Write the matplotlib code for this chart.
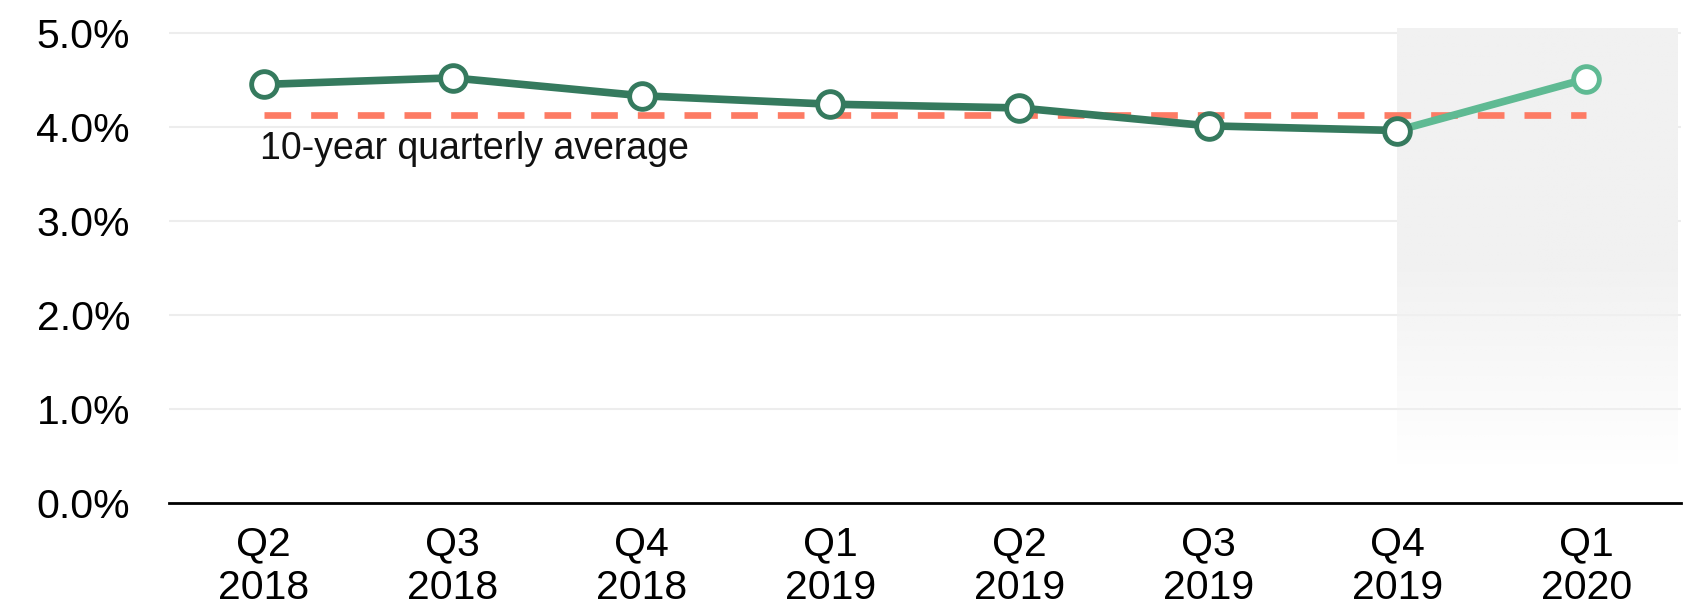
import matplotlib
matplotlib.use('Agg')
import matplotlib.pyplot as plt
import numpy as np
from matplotlib.colors import to_rgb

plt.rcParams['font.family'] = ['Liberation Sans', 'DejaVu Sans']

# Data
quarters = ['Q2\n2018', 'Q3\n2018', 'Q4\n2018', 'Q1\n2019',
            'Q2\n2019', 'Q3\n2019', 'Q4\n2019', 'Q1\n2020']
rates = [4.45, 4.52, 4.33, 4.24, 4.20, 4.01, 3.96, 4.51]
avg_rate = 4.13
avg_label = '10-year quarterly average'
yticks = [0, 1, 2, 3, 4, 5]

dark_green = '#357a5e'
light_green = '#5fba93'
salmon = '#fd7b64'
shade = '#f1f1f1'

fig = plt.figure(figsize=(16.9, 6.15), dpi=100, facecolor='white')
ax = fig.add_axes([169 / 1690, 112 / 615, (1681 - 169) / 1690, (503 - 28) / 615])

x = np.arange(len(quarters))
last = len(quarters) - 1  # latest quarter drawn in lighter green

# gridlines
for yv in yticks[1:]:
    ax.axhline(yv, color='#ededed', linewidth=1.5, zorder=0)

# shaded area behind the latest segment, fading out towards the bottom
ylo, yhi = 0.3, 5.05
ys = np.linspace(yhi, ylo, 400)
alpha = np.clip((ys - 0.4) / (2.6 - 0.4), 0, 1)
rgba = np.zeros((400, 1, 4))
rgba[..., :3] = to_rgb(shade)
rgba[:, 0, 3] = alpha
ax.imshow(rgba, extent=[x[last - 1], 7.485, ylo, yhi], aspect='auto',
          zorder=1, interpolation='bilinear')

# 10-year average
ax.plot([x[0], x[-1]], [avg_rate, avg_rate], color=salmon, linewidth=4.8,
        dashes=(4.0, 3.0), zorder=2, solid_capstyle='butt')
ax.text(x[0] - 0.02, avg_rate - 0.17, avg_label, fontsize=27,
        ha='left', va='top', color='#111111', zorder=3)

# rate line
ax.plot(x[:last], rates[:last], color=dark_green, linewidth=5.5, zorder=3)
ax.plot(x[last - 1:], rates[last - 1:], color=light_green, linewidth=5.5, zorder=3)
ax.plot(x[:last], rates[:last], linestyle='none', marker='o', markersize=18.5,
        markerfacecolor='white', markeredgecolor=dark_green, markeredgewidth=3.5, zorder=4)
ax.plot(x[last:], rates[last:], linestyle='none', marker='o', markersize=18.5,
        markerfacecolor='white', markeredgecolor=light_green, markeredgewidth=3.5, zorder=4)

ax.set_xlim(-0.5, 7.5)
ax.set_ylim(0, 5.05)
ax.set_xticks(x)
ax.set_xticklabels(quarters, fontsize=29.5)
ax.set_yticks(yticks)
ax.set_yticklabels([f'{v:.1f}%' for v in yticks], fontsize=29.5)
ax.tick_params(axis='both', length=0)
ax.tick_params(axis='y', pad=28)
ax.tick_params(axis='x', pad=16)

for s in ['top', 'right', 'left']:
    ax.spines[s].set_visible(False)
ax.spines['bottom'].set_color('black')
ax.spines['bottom'].set_linewidth(2)
ax.spines['bottom'].set_zorder(5)

fig.savefig('out.png', dpi=100, facecolor='white')
